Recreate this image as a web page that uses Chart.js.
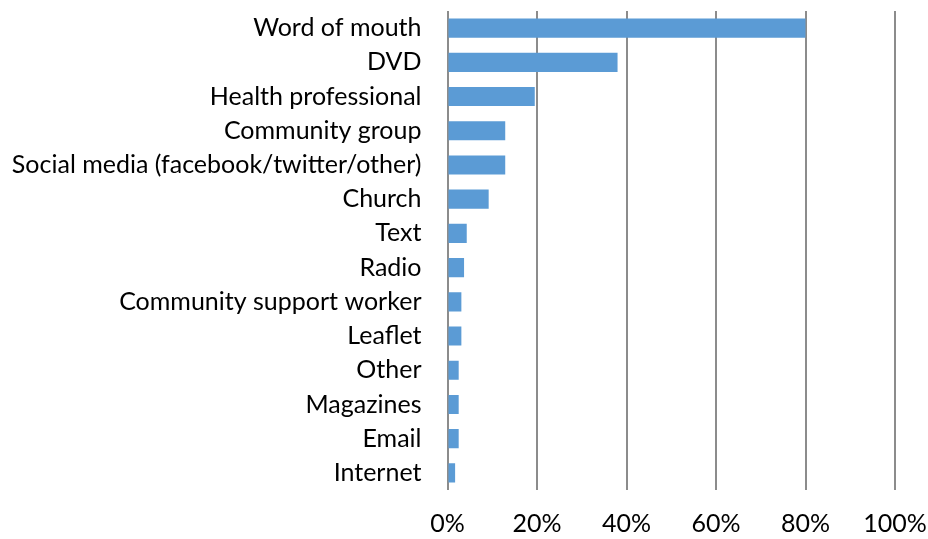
<!DOCTYPE html>
<html>
<head>
<meta charset="utf-8">
<script src="https://cdn.jsdelivr.net/npm/chart.js@4"></script>
<style>
  html, body { margin: 0; padding: 0; background: #fff; }
  #sourceChart { display: block; }
</style>
</head>
<body>
<canvas id="sourceChart" width="928" height="539"></canvas>
<script>
// where people heard about it (share of respondents, %)
var sources = [
  "Word of mouth",
  "DVD",
  "Health professional",
  "Community group",
  "Social media (facebook/twitter/other)",
  "Church",
  "Text",
  "Radio",
  "Community support worker",
  "Leaflet",
  "Other",
  "Magazines",
  "Email",
  "Internet"
];
var percents = [80, 38, 19.5, 12.9, 12.9, 9.2, 4.3, 3.7, 3.1, 3.1, 2.5, 2.5, 2.5, 1.7];
var xTicks = [0, 20, 40, 60, 80, 100];

var fontFamily = "Lato, 'Open Sans', sans-serif";

// drop the label overhang padding so layout.padding alone sets the plot edges
function noOverhang(scale) {
  scale.paddingTop = 0;
  scale.paddingBottom = 0;
  scale.paddingLeft = 0;
  scale.paddingRight = 0;
}

new Chart(document.getElementById("sourceChart"), {
  type: "bar",
  data: {
    labels: sources,
    datasets: [{
      data: percents,
      backgroundColor: "#5b9bd5",
      borderWidth: 0,
      barPercentage: 0.56,
      categoryPercentage: 1.0
    }]
  },
  options: {
    indexAxis: "y",
    responsive: false,
    animation: false,
    layout: {
      padding: { top: 11, right: 33, bottom: 0, left: 0 }
    },
    plugins: {
      legend: { display: false },
      tooltip: { enabled: false }
    },
    scales: {
      x: {
        min: 0,
        max: 100,
        afterBuildTicks: function(axis) {
          axis.ticks = xTicks.map(function(v) { return { value: v }; });
        },
        afterFit: function(scale) {
          noOverhang(scale);
          scale.height = 49;
        },
        grid: {
          color: "#8c8c8c",
          lineWidth: 2,
          drawTicks: false,
          tickLength: 0
        },
        border: { display: false },
        ticks: {
          padding: 19,
          color: "#000",
          font: { family: fontFamily, size: 25 },
          callback: function(v) { return v + "%"; }
        }
      },
      y: {
        afterFit: noOverhang,
        grid: { display: false, drawTicks: false, tickLength: 0 },
        border: { display: false },
        ticks: {
          autoSkip: false,
          padding: 26,
          color: "#000",
          font: { family: fontFamily, size: 25 }
        }
      }
    }
  }
});
</script>
</body>
</html>
